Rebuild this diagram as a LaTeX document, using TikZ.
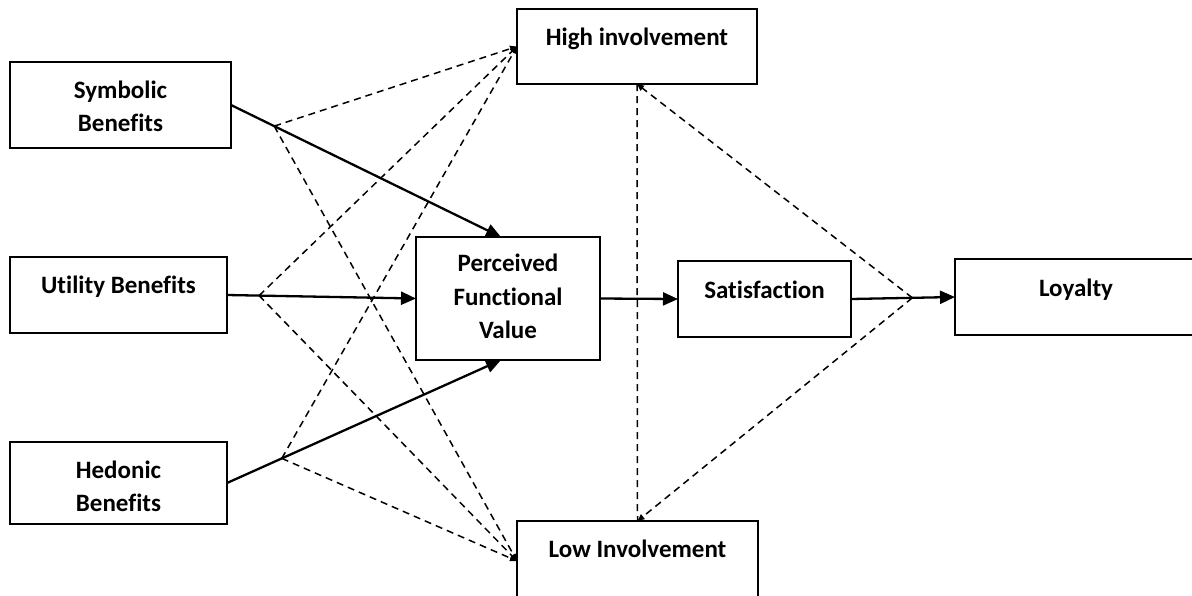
\documentclass[tikz,border=0pt]{standalone}
\usepackage{fontspec}
\setmainfont{Carlito}[Ligatures=NoCommon]
\usetikzlibrary{arrows.meta}
\begin{document}
\begin{tikzpicture}[x=1pt,y=-1pt,
  box/.style={draw, line width=2.5pt, inner sep=0pt, outer sep=0pt, fill=white},
  lbl/.style={anchor=base, inner sep=0pt, font=\fontsize{25}{30}\selectfont\bfseries},
  solidarrow/.style={line width=2.3pt, -{Triangle[length=15pt,width=13pt]}},
  dasharrow/.style={line width=1.5pt, dash pattern=on 7pt off 5pt, -{Triangle[length=7pt,width=6pt]}},
  dashline/.style={line width=1.5pt, dash pattern=on 7pt off 5pt}]
\useasboundingbox (0,0) rectangle (1192,595);
\clip (0,0) rectangle (1192,595);
\fill[white] (0,0) rectangle (1192,595);

% boxes
\node[box, minimum width=221pt, minimum height=86pt] (sym) at (120.5,105) {};
\node[box, minimum width=217pt, minimum height=76pt] (uti) at (118.5,295) {};
\node[box, minimum width=217pt, minimum height=82pt] (hed) at (118.5,483) {};
\node[box, minimum width=184pt, minimum height=123pt] (pfv) at (508,298.5) {};
\node[box, minimum width=173pt, minimum height=76pt] (sat) at (764.5,299) {};
\node[box, minimum width=242pt, minimum height=76pt] (loy) at (1076,297) {};
\node[box, minimum width=240pt, minimum height=75pt] (hi) at (637,46.5) {};
\node[box, minimum width=241pt, minimum height=80pt] (lo) at (637.5,561) {};

% texts
\node[lbl] (symA) at (120.5,98) {Symbolic};
\node[lbl] (symB) at (120.5,131) {Benefits};
\node[lbl] (utiA) at (118.5,293) {Utility Benefits};
\node[lbl] (hedA) at (118.5,478) {Hedonic};
\node[lbl] (hedB) at (118.5,511) {Benefits};
\node[lbl] (pfvA) at (508,271) {Perceived};
\node[lbl] (pfvB) at (508,305) {Functional};
\node[lbl] (pfvC) at (508,338) {Value};
\node[lbl] (satA) at (764.5,298) {Satisfaction};
\node[lbl] (loyA) at (1076,296) {Loyalty};
\node[lbl] (hiA) at (637,45) {High involvement};
\node[lbl] (loA) at (637.5,557) {Low Involvement};

% solid paths
\draw[solidarrow] (sym.east) -- coordinate[pos=0.16] (ds) ([xshift=-7pt]pfv.north);
\draw[solidarrow] (uti.east) -- coordinate[pos=0.17] (du) (pfv.west);
\draw[solidarrow] (hed.east) -- coordinate[pos=0.2] (dh) ([xshift=-7pt]pfv.south);
\draw[solidarrow] (pfv.east) -- (sat.west);
\draw[solidarrow] (sat.east) -- coordinate[pos=0.59] (dr) (loy.west);

% dashed moderation paths
\foreach \s in {ds,du,dh}{
  \draw[dasharrow] (\s) -- (hi.west);
  \draw[dasharrow] (\s) -- (lo.west);
}
\draw[dashline] (hi.south) -- (lo.north);
\draw[dasharrow] (dr) -- (hi.south);
\draw[dasharrow] (dr) -- (lo.north);
\end{tikzpicture}
\end{document}
